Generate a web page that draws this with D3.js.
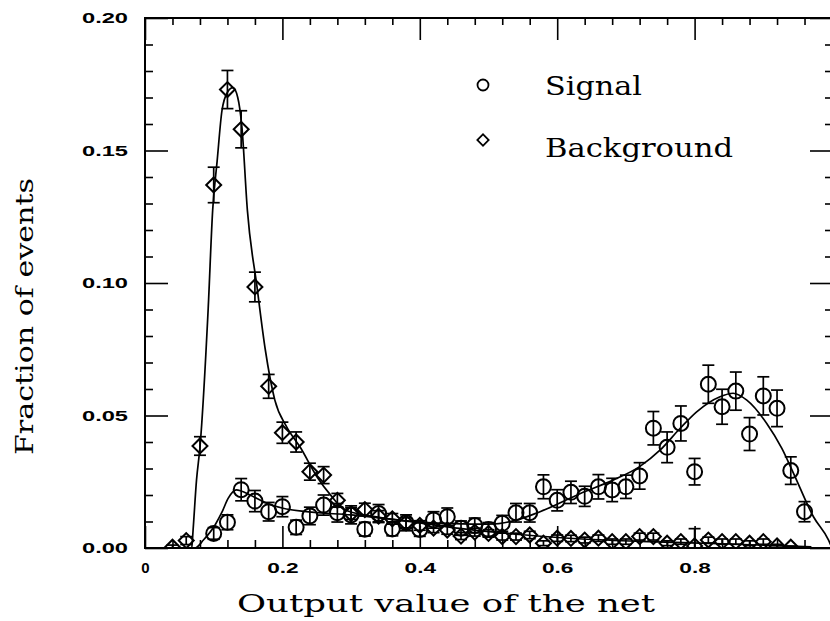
<!DOCTYPE html>
<html>
<head>
<meta charset="utf-8">
<script src="https://cdn.jsdelivr.net/npm/d3@7"></script>
<style>
  body { margin: 0; background: #fff; }
</style>
</head>
<body>
<script>
// bin centres and fractions
const sigX = [0.10,0.12,0.14,0.16,0.18,0.20,0.22,0.24,0.26,0.28,0.30,0.32,0.34,0.36,0.38,0.40,0.42,0.44,0.46,0.48,0.50,0.52,
              0.54,0.56,0.58,0.60,0.62,0.64,0.66,0.68,0.70,0.72,0.74,0.76,0.78,0.80,0.82,0.84,0.86,0.88,0.90,0.92,0.94,0.96];
const sigY = [0.0055,0.0097,0.0220,0.0177,0.0137,0.0156,0.0078,0.0121,0.0162,0.0133,0.0125,0.0071,0.0130,0.0072,0.0095,0.0070,
              0.0106,0.0118,0.0075,0.0085,0.0070,0.0093,0.0133,0.0133,0.0231,0.0180,0.0210,0.0195,0.0231,0.0219,0.0231,0.0272,
              0.0452,0.0380,0.0470,0.0288,0.0618,0.0533,0.0592,0.0430,0.0574,0.0527,0.0292,0.0137];
const sigErr = [0.0022,0.0028,0.0042,0.0040,0.0035,0.0038,0.0027,0.0033,0.0038,0.0035,0.0034,0.0026,0.0034,0.0026,0.0030,0.0026,
                0.0031,0.0033,0.0027,0.0028,0.0026,0.0030,0.0035,0.0035,0.0045,0.0040,0.0042,0.0038,0.0046,0.0044,0.0044,0.0050,
                0.0063,0.0058,0.0066,0.0050,0.0072,0.0066,0.0072,0.0062,0.0072,0.0069,0.0052,0.0038];

const bkgX = [0.04,0.06,0.08,0.10,0.12,0.14,0.16,0.18,0.20,0.22,0.24,0.26,0.28,0.30,0.32,0.34,0.36,0.38,0.40,0.42,0.44,0.46,0.48,
              0.50,0.52,0.54,0.56,0.58,0.60,0.62,0.64,0.66,0.68,0.70,0.72,0.74,0.76,0.78,0.80,0.82,0.84,0.86,0.88,0.90,0.92,0.94];
const bkgY = [0.0003,0.0028,0.0385,0.1370,0.1730,0.1580,0.0985,0.0610,0.0435,0.0400,0.0288,0.0275,0.0180,0.0130,0.0145,0.0120,
              0.0110,0.0095,0.0085,0.0075,0.0068,0.0045,0.0060,0.0055,0.0043,0.0043,0.0049,0.0018,0.0037,0.0036,0.0030,0.0037,
              0.0024,0.0024,0.0043,0.0043,0.0018,0.0024,0.0008,0.0030,0.0024,0.0024,0.0018,0.0024,0.0008,0.0003];
const bkgErr = [0.0008,0.0015,0.0035,0.0067,0.0072,0.0070,0.0056,0.0045,0.0040,0.0038,0.0032,0.0032,0.0026,0.0022,0.0024,0.0021,
                0.0020,0.0019,0.0018,0.0017,0.0016,0.0013,0.0015,0.0014,0.0013,0.0013,0.0014,0.0009,0.0012,0.0012,0.0011,0.0012,
                0.0010,0.0010,0.0013,0.0013,0.0009,0.0010,0.0065,0.0011,0.0010,0.0010,0.0009,0.0010,0.0006,0.0004];

// fitted curves, points
const bkgFitX = [0.060,0.068,0.070,0.075,0.080,0.092,0.0985,0.105,0.112,0.120,0.128,0.135,0.141,0.149,0.163,0.175,0.189,0.206,
                 0.226,0.250,0.272,0.290,0.330,0.400,0.470,0.550,0.630,0.720,0.850,0.970];
const bkgFitY = [0.0,0.0,0.0068,0.0257,0.038,0.0905,0.1275,0.146,0.165,0.172,0.1737,0.170,0.159,0.1275,0.0986,0.075,0.0558,0.0458,
                 0.038,0.027,0.0194,0.0145,0.0120,0.0095,0.0070,0.0050,0.0035,0.0025,0.0015,0.0004];
const sigFitX = [0.070,0.073,0.085,0.102,0.112,0.121,0.133,0.140,0.153,0.177,0.201,0.235,0.300,0.400,0.450,0.500,0.540,0.575,
                 0.633,0.682,0.720,0.750,0.779,0.803,0.837,0.856,0.876,0.905,0.927,0.944,0.973,0.995,1.0];
const sigFitY = [0.0,0.0,0.003,0.0087,0.0135,0.0187,0.0219,0.0215,0.0200,0.0169,0.0150,0.0137,0.0125,0.0098,0.0092,0.0090,0.0105,
                 0.0137,0.0205,0.0257,0.0307,0.0370,0.0452,0.0514,0.0571,0.0584,0.0558,0.0470,0.0376,0.0282,0.0118,0.0030,0.0];

const xMajor = [0, 0.2, 0.4, 0.6, 0.8, 1.0];
const xLabels = ["0", "0.2", "0.4", "0.6", "0.8", ""];
const xMinor = [0.04,0.08,0.12,0.16,0.24,0.28,0.32,0.36,0.44,0.48,0.52,0.56,0.64,0.68,0.72,0.76,0.84,0.88,0.92,0.96];
const yMajor = [0, 0.05, 0.10, 0.15, 0.20];
const yLabels = ["0.00", "0.05", "0.10", "0.15", "0.20"];
const yMinor = [0.01,0.02,0.03,0.04,0.06,0.07,0.08,0.09,0.11,0.12,0.13,0.14,0.16,0.17,0.18,0.19];

const W = 830, H = 621;
const margin = {left: 145, right: 832, top: 18, bottom: 548};

const x = d3.scaleLinear().domain([0, 1]).range([margin.left, margin.right]);
const y = d3.scaleLinear().domain([0, 0.2]).range([margin.bottom, margin.top]);

const svg = d3.select("body").append("svg")
  .attr("width", W).attr("height", H)
  .style("font-family", "'DejaVu Serif', serif");

svg.append("defs").append("clipPath").attr("id", "plot")
  .append("rect").attr("x", margin.left).attr("y", margin.top)
  .attr("width", margin.right - margin.left).attr("height", margin.bottom - margin.top);

let styleAxis = g => {
  g.select(".domain").remove();
  g.selectAll(".tick line").attr("stroke", "#000").attr("stroke-width", 1.6);
};
// bold, slightly stretched numerals like the original
let styleLabels = (g, perChar) => {
  g.selectAll("text")
    .attr("fill", "#000")
    .attr("textLength", function() { let n = this.textContent.length; return n > 1 ? n * perChar : null; })
    .attr("lengthAdjust", "spacingAndGlyphs")
    .style("font-family", "'Liberation Sans', Arial, sans-serif")
    .style("font-weight", "bold").style("font-size", "15px");
};

// bottom axis
svg.append("g").attr("transform", `translate(0,${margin.bottom})`)
  .call(d3.axisBottom(x).tickValues(xMinor).tickSize(-8).tickFormat(""))
  .call(styleAxis);
svg.append("g").attr("transform", `translate(0,${margin.bottom})`)
  .call(d3.axisBottom(x).tickValues(xMajor).tickSize(-22).tickPadding(14)
    .tickFormat((d, i) => xLabels[i]))
  .call(styleAxis).call(styleLabels, 10.5);

// top axis
svg.append("g").attr("transform", `translate(0,${margin.top})`)
  .call(d3.axisTop(x).tickValues(xMinor).tickSize(-7).tickFormat(""))
  .call(styleAxis);
svg.append("g").attr("transform", `translate(0,${margin.top})`)
  .call(d3.axisTop(x).tickValues(xMajor).tickSize(-22).tickFormat(""))
  .call(styleAxis);

// left axis
svg.append("g").attr("transform", `translate(${margin.left},0)`)
  .call(d3.axisLeft(y).tickValues(yMinor).tickSize(-8).tickFormat(""))
  .call(styleAxis);
svg.append("g").attr("transform", `translate(${margin.left},0)`)
  .call(d3.axisLeft(y).tickValues(yMajor).tickSize(-23).tickPadding(17).tickFormat((d, i) => yLabels[i]))
  .call(styleAxis).call(styleLabels, 11.5);

// right axis
svg.append("g").attr("transform", `translate(${margin.right},0)`)
  .call(d3.axisRight(y).tickValues(yMinor).tickSize(-7).tickFormat(""))
  .call(styleAxis);
svg.append("g").attr("transform", `translate(${margin.right},0)`)
  .call(d3.axisRight(y).tickValues(yMajor).tickSize(-22).tickFormat(""))
  .call(styleAxis);

// frame
svg.append("rect")
  .attr("x", margin.left).attr("y", margin.top)
  .attr("width", margin.right - margin.left).attr("height", margin.bottom - margin.top)
  .attr("fill", "none").attr("stroke", "#000").attr("stroke-width", 2);

// fitted curves
let line = d3.line().x(d => x(d[0])).y(d => y(d[1])).curve(d3.curveMonotoneX);
let plot = svg.append("g").attr("clip-path", "url(#plot)");

plot.append("path").datum(d3.zip(bkgFitX, bkgFitY))
  .attr("d", line).attr("fill", "none").attr("stroke", "#000").attr("stroke-width", 1.7);
plot.append("path").datum(d3.zip(sigFitX, sigFitY))
  .attr("d", line).attr("fill", "none").attr("stroke", "#000").attr("stroke-width", 1.7);

// error bars + markers
let capW = 6;
let drawSeries = (xs, ys, es, kind) => {
  let pts = xs.map((v, i) => ({x: v, y: ys[i], e: es[i]}));
  let g = plot.append("g").attr("stroke", "#000").attr("fill", "none");
  let eb = g.selectAll("g.err").data(pts).enter().append("g").attr("class", "err");
  eb.append("line")
    .attr("x1", d => x(d.x)).attr("x2", d => x(d.x))
    .attr("y1", d => y(d.y - d.e)).attr("y2", d => y(d.y + d.e))
    .attr("stroke-width", 1.7);
  eb.append("line")
    .attr("x1", d => x(d.x) - capW).attr("x2", d => x(d.x) + capW)
    .attr("y1", d => y(d.y + d.e)).attr("y2", d => y(d.y + d.e))
    .attr("stroke-width", 1.7);
  eb.append("line")
    .attr("x1", d => x(d.x) - capW).attr("x2", d => x(d.x) + capW)
    .attr("y1", d => y(d.y - d.e)).attr("y2", d => y(d.y - d.e))
    .attr("stroke-width", 1.7);

  if (kind === "circle") {
    g.selectAll("circle").data(pts).enter().append("circle")
      .attr("cx", d => x(d.x)).attr("cy", d => y(d.y)).attr("r", 7.5)
      .attr("stroke-width", 2);
  } else {
    g.selectAll("path.dia").data(pts).enter().append("path").attr("class", "dia")
      .attr("d", d3.symbol(d3.symbolSquare, 112))
      .attr("transform", d => `translate(${x(d.x)},${y(d.y)}) rotate(45)`)
      .attr("stroke-width", 2);
  }
};

drawSeries(sigX, sigY, sigErr, "circle");
drawSeries(bkgX, bkgY, bkgErr, "diamond");

// legend
let legend = svg.append("g");
legend.append("circle").attr("cx", 483).attr("cy", 85).attr("r", 5.5)
  .attr("fill", "none").attr("stroke", "#000").attr("stroke-width", 1.8);
legend.append("path").attr("d", d3.symbol(d3.symbolSquare, 64))
  .attr("transform", "translate(483,140) rotate(45)")
  .attr("fill", "none").attr("stroke", "#000").attr("stroke-width", 1.8);
legend.append("text").attr("x", 545).attr("y", 95)
  .attr("textLength", 97).attr("lengthAdjust", "spacingAndGlyphs")
  .style("font-size", "26px").text("Signal");
legend.append("text").attr("x", 545).attr("y", 157)
  .attr("textLength", 188).attr("lengthAdjust", "spacingAndGlyphs")
  .style("font-size", "26px").text("Background");

// axis titles
svg.append("text").attr("x", 237).attr("y", 612)
  .attr("textLength", 418).attr("lengthAdjust", "spacingAndGlyphs")
  .style("font-size", "25px").text("Output value of the net");
svg.append("text")
  .attr("transform", "translate(33,455) rotate(-90)")
  .attr("textLength", 277).attr("lengthAdjust", "spacingAndGlyphs")
  .style("font-size", "25px").text("Fraction of events");
</script>
</body>
</html>
